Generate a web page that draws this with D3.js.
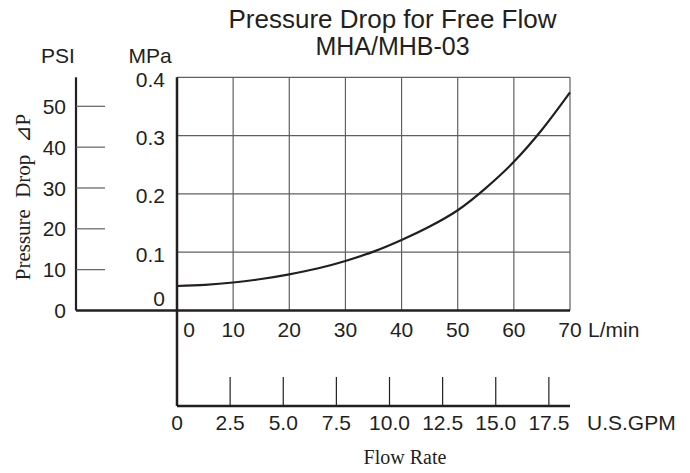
<!DOCTYPE html>
<html><head><meta charset="utf-8">
<script src="https://cdn.jsdelivr.net/npm/d3@7"></script>
<style>
body{margin:0;background:#fff;}
text{font-family:"Liberation Sans",Arial,sans-serif;fill:#231f20;}
.serif{font-family:"Liberation Serif","Times New Roman",serif;}
</style></head>
<body><svg id="c" width="690" height="473"></svg>
<script>
// ---- data ----
const flowLmin = [0, 5, 10, 15, 20, 25, 30, 35, 40, 45, 50, 55, 60, 65, 70];
const pressureMPa = [0.042, 0.044, 0.048, 0.054, 0.062, 0.072, 0.085, 0.101, 0.121, 0.144, 0.172, 0.21, 0.255, 0.31, 0.374];
const lminTicks = [0, 10, 20, 30, 40, 50, 60, 70];
const gpmTicks = [2.5, 5.0, 7.5, 10.0, 12.5, 15.0, 17.5];
const gpmLabels = ["0", "2.5", "5.0", "7.5", "10.0", "12.5", "15.0", "17.5"];
const mpaTicks = [0, 0.1, 0.2, 0.3, 0.4];
const psiTicks = [0, 10, 20, 30, 40, 50];

const svg = d3.select("#c");
const x = d3.scaleLinear().domain([0, 70]).range([177, 570]);
const gpm = d3.scaleLinear().domain([0, 70 / 3.785]).range([177, 570]);
const y = d3.scaleLinear().domain([0, 0.4]).range([310.5, 77.3]);
const psi = d3.scaleLinear().domain([0, 57.1]).range([310.5, 77.3]);

const grid = "#606060", dark = "#231f20";
const fs = 21;

// grid
svg.append("g").selectAll("line").data(mpaTicks.slice(1)).join("line")
  .attr("x1", x(0)).attr("x2", x(70)).attr("y1", d => y(d)).attr("y2", d => y(d))
  .attr("stroke", grid).attr("stroke-width", 1.2);
svg.append("g").selectAll("line").data(lminTicks.slice(1)).join("line")
  .attr("x1", d => x(d)).attr("x2", d => x(d)).attr("y1", y(0)).attr("y2", y(0.4))
  .attr("stroke", grid).attr("stroke-width", 1.2);

// PSI axis
svg.append("line").attr("x1", 76).attr("x2", 76).attr("y1", y(0.4)).attr("y2", psi(0))
  .attr("stroke", dark).attr("stroke-width", 2.2);
svg.append("g").selectAll("line").data(psiTicks.slice(1)).join("line")
  .attr("x1", 76).attr("x2", 105).attr("y1", d => psi(d)).attr("y2", d => psi(d))
  .attr("stroke", grid).attr("stroke-width", 1.2);
svg.append("g").selectAll("text").data(psiTicks).join("text")
  .attr("x", 66).attr("y", d => psi(d)).attr("dy", "0.36em").attr("text-anchor", "end")
  .attr("font-size", fs).text(d => d);

// MPa axis labels
svg.append("g").selectAll("text").data(mpaTicks).join("text")
  .attr("x", 165).attr("y", d => d === 0 ? y(d) - 11.7 : y(d) + 2).attr("dy", "0.36em").attr("text-anchor", "end")
  .attr("font-size", fs).text(d => d === 0 ? "0" : d3.format(".1f")(d));

// main axis lines
svg.append("line").attr("x1", 76).attr("x2", x(70)).attr("y1", y(0)).attr("y2", y(0))
  .attr("stroke", dark).attr("stroke-width", 2.5);
svg.append("line").attr("x1", x(0)).attr("x2", x(0)).attr("y1", y(0.4)).attr("y2", 406)
  .attr("stroke", dark).attr("stroke-width", 2.5);

// L/min labels
svg.append("g").selectAll("text").data(lminTicks).join("text")
  .attr("x", d => d === 0 ? x(d) + 12 : x(d)).attr("y", 337).attr("text-anchor", "middle")
  .attr("font-size", fs).text(d => d);
svg.append("text").attr("x", 588).attr("y", 337).attr("font-size", fs).text("L/min");

// GPM axis
svg.append("line").attr("x1", gpm(0)).attr("x2", x(70)).attr("y1", 406).attr("y2", 406)
  .attr("stroke", dark).attr("stroke-width", 2.5);
svg.append("g").selectAll("line").data(gpmTicks).join("line")
  .attr("x1", d => gpm(d)).attr("x2", d => gpm(d)).attr("y1", 377).attr("y2", 406)
  .attr("stroke", dark).attr("stroke-width", 1.2);
svg.append("g").selectAll("text").data(gpmLabels).join("text")
  .attr("x", d => gpm(+d)).attr("y", 430).attr("text-anchor", "middle")
  .attr("font-size", fs).text(d => d);
svg.append("text").attr("x", 587).attr("y", 430).attr("font-size", fs).text("U.S.GPM");

// curve
const line = d3.line().x((d, i) => x(flowLmin[i])).y(d => y(d)).curve(d3.curveMonotoneX);
svg.append("path").datum(pressureMPa).attr("d", line).attr("fill", "none")
  .attr("stroke", dark).attr("stroke-width", 2.2);

// titles
svg.append("text").attr("x", 392.5).attr("y", 28).attr("text-anchor", "middle").attr("font-size", 26)
  .text("Pressure Drop for Free Flow");
svg.append("text").attr("x", 392.5).attr("y", 55).attr("text-anchor", "middle").attr("font-size", 25)
  .text("MHA/MHB-03");
svg.append("text").attr("x", 58).attr("y", 63).attr("text-anchor", "middle").attr("font-size", fs).text("PSI");
svg.append("text").attr("x", 150).attr("y", 63).attr("text-anchor", "middle").attr("font-size", fs).text("MPa");
svg.append("text").attr("class", "serif").attr("x", 405).attr("y", 464).attr("text-anchor", "middle")
  .attr("font-size", 20).text("Flow Rate");
svg.append("text").attr("class", "serif").attr("transform", "translate(30,197) rotate(-90)")
  .attr("text-anchor", "middle").attr("font-size", 21).attr("word-spacing", 6).text("Pressure Drop ⊿P");
</script></body></html>
